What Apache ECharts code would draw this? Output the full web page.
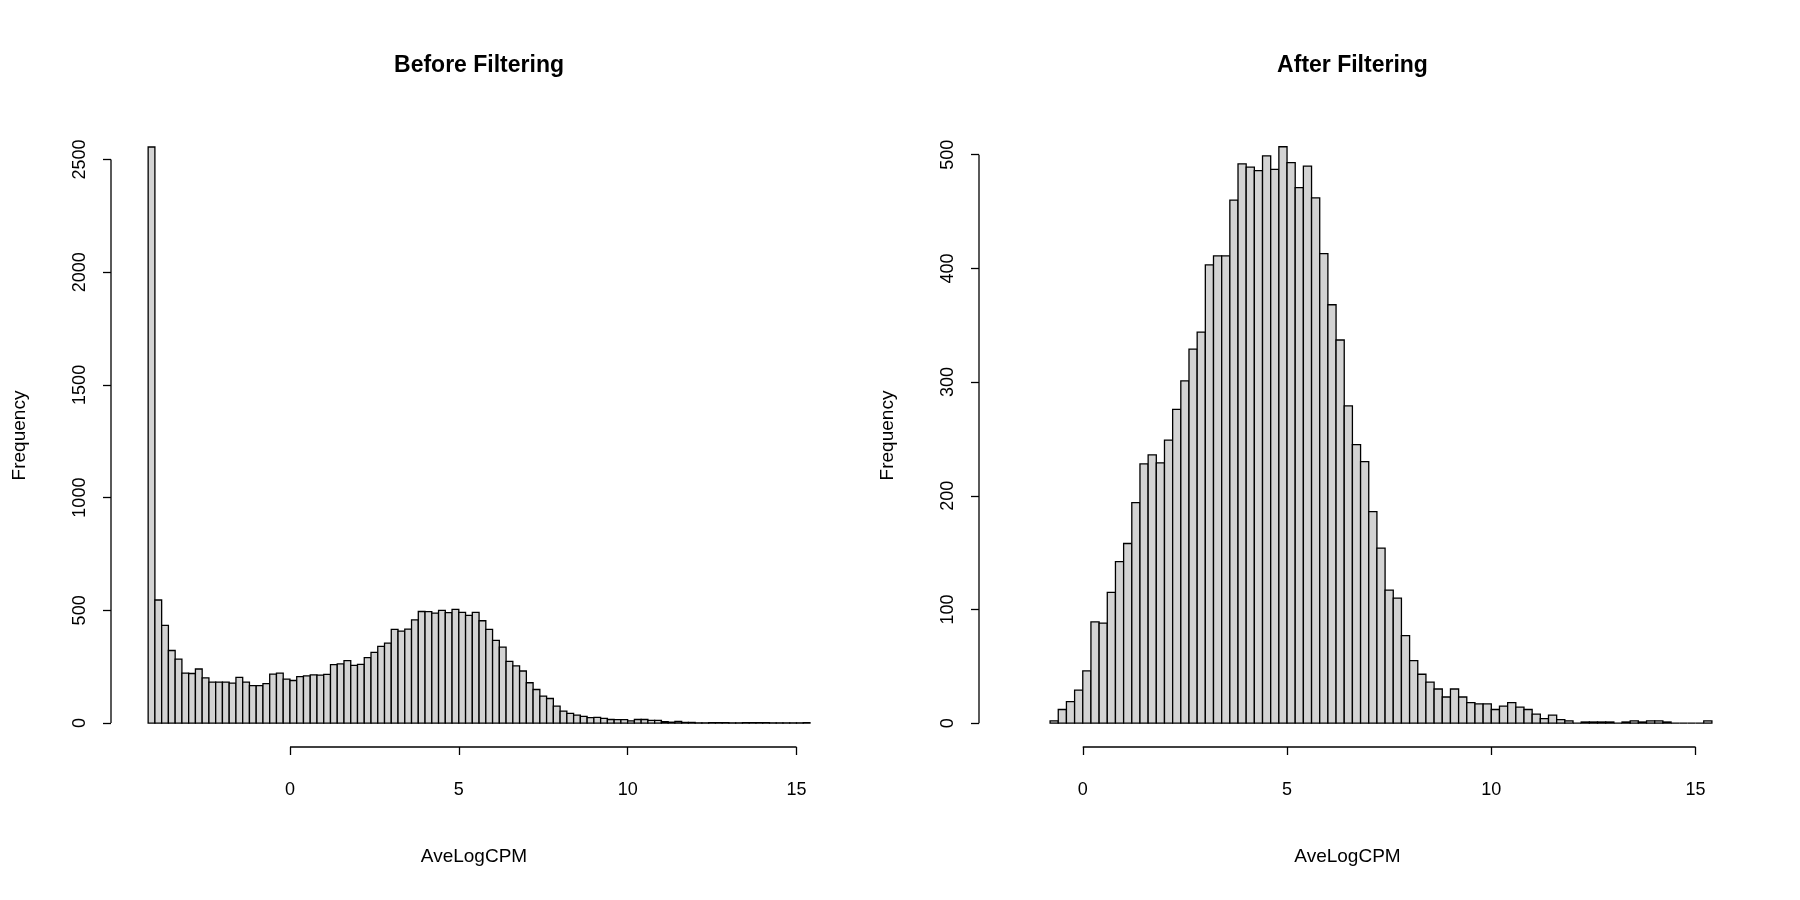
<!DOCTYPE html>
<html><head><meta charset="utf-8">
<script src="https://cdn.jsdelivr.net/npm/echarts@6/dist/echarts.min.js"></script>
<style>html,body{margin:0;padding:0;background:#fff}#c{width:1800px;height:900px}</style>
</head><body><div id="c"></div>
<script>
const binWidth = 0.2;
const beforeStart = -4.2;
const beforeCounts = [2555,546,433,322,284,222,220,240,201,182,182,182,177,203,182,166,166,175,217,222,195,189,206,209,214,213,216,259,263,277,256,260,290,314,340,355,416,408,417,458,495,494,488,500,490,504,491,478,491,
454,416,367,337,274,254,231,179,149,120,109,75,53,43,35,30,24,25,21,16,15,15,10,16,16,12,12,6,4,7,3,3,
1,1,2,2,2,1,1,2,2,2,2,1,1,1,1,1,2];
const afterStart = -0.8;
const afterCounts = [2,12,19,29,46,89,88,115,142,158,194,228,236,229,249,276,301,329,344,403,411,411,460,492,489,486,499,487,507,493,471,490,462,413,368,337,279,245,230,186,154,117,110,77,55,43,
36,30,23,30,23,18,17,17,12,15,18,14,12,8,4,7,3,2,0,1,1,1,1,0,1,2,1,2,2,1,0,0,0,0,2];
const xTicks = [0,5,10,15];
const yTicksBefore = [0,500,1000,1500,2000,2500];
const yTicksAfter = [0,100,200,300,400,500];
const titles = ['Before Filtering','After Filtering'];

function bins(start, counts){ return counts.map((c,i)=>[start+i*binWidth, start+(i+1)*binWidth, c]); }
const font = 'Liberation Sans, Arial, sans-serif';
const panels = [
  {left:111,width:726,xmin:-5.3,xmax:16.2,ymin:-106,ymax:2657,data:bins(beforeStart,beforeCounts),yt:yTicksBefore},
  {left:979,width:737,xmin:-2.54,xmax:15.5,ymin:-21,ymax:527,data:bins(afterStart,afterCounts),yt:yTicksAfter}
];
const opt = {animation:false, grid:[], xAxis:[], yAxis:[], series:[], title:[]};
panels.forEach((p,i)=>{
  opt.grid.push({left:p.left,width:p.width,top:124,height:623});
  opt.title.push({text:titles[i],left:p.left+p.width/2,top:49,textAlign:'center',
    textStyle:{fontFamily:font,fontSize:23,fontWeight:'bold',color:'#000'}});
  opt.xAxis.push({type:'value',gridIndex:i,min:p.xmin,max:p.xmax,splitLine:{show:false},
    axisLine:{show:false,onZero:false},position:'bottom',
    axisTick:{show:true,length:8,customValues:xTicks,lineStyle:{color:'#000',width:1.3}},
    axisLabel:{customValues:xTicks,color:'#000',fontFamily:font,fontSize:18,margin:34,formatter:v=>String(v)},
    name:'AveLogCPM',nameLocation:'middle',nameGap:100,nameTextStyle:{fontFamily:font,fontSize:19,color:'#000'}});
  opt.yAxis.push({type:'value',gridIndex:i,min:p.ymin,max:p.ymax,splitLine:{show:false},
    axisLine:{show:false,onZero:false},position:'left',
    axisTick:{show:true,length:8,customValues:p.yt,lineStyle:{color:'#000',width:1.3}},
    axisLabel:{customValues:p.yt,rotate:90,color:'#000',fontFamily:font,fontSize:18,margin:22,formatter:v=>String(v)},
    name:'Frequency',nameLocation:'middle',nameGap:82,nameTextStyle:{fontFamily:font,fontSize:19,color:'#000'}});
  opt.series.push({type:'custom',xAxisIndex:i,yAxisIndex:i,clip:false,data:p.data,
    renderItem:(params,api)=>{
      const a=api.coord([api.value(0),api.value(2)]), b=api.coord([api.value(1),0]);
      return {type:'rect',shape:{x:a[0],y:a[1],width:b[0]-a[0],height:b[1]-a[1]},
        style:{fill:'#d3d3d3',stroke:'#000',lineWidth:1.3}};
    }});
  const lines=[[xTicks[0],p.ymin,xTicks[xTicks.length-1],p.ymin],[p.xmin,p.yt[0],p.xmin,p.yt[p.yt.length-1]]];
  opt.series.push({type:'custom',xAxisIndex:i,yAxisIndex:i,clip:false,silent:true,data:lines,
    renderItem:(params,api)=>{
      const a=api.coord([api.value(0),api.value(1)]), b=api.coord([api.value(2),api.value(3)]);
      return {type:'line',shape:{x1:a[0],y1:a[1],x2:b[0],y2:b[1]},style:{stroke:'#000',lineWidth:1.3}};
    }});
});
echarts.init(document.getElementById('c')).setOption(opt);
</script></body></html>
